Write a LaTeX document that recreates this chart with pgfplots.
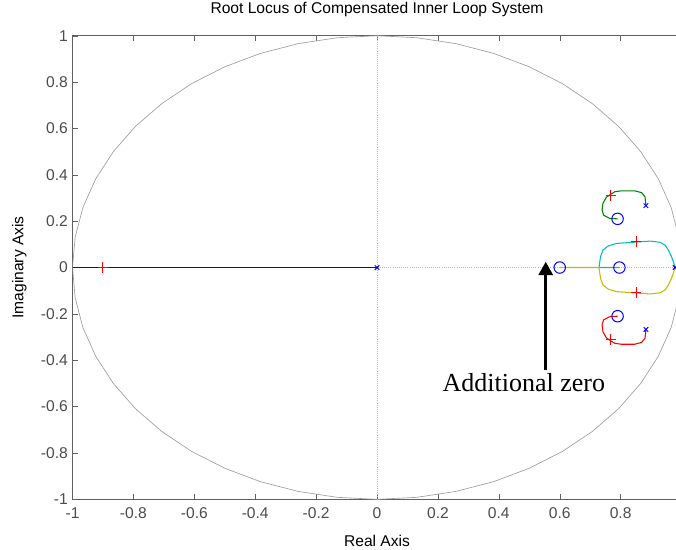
\documentclass[border=0pt]{standalone}
\usepackage{fontspec}
\setmainfont{Liberation Sans}
\newfontfamily\serifann{Liberation Serif}
\usepackage{pgfplots}
\pgfplotsset{compat=1.18}
\usetikzlibrary{arrows.meta}

\definecolor{mblue}{rgb}{0,0,1}
\definecolor{mgreen}{rgb}{0,0.5,0}
\definecolor{mred}{rgb}{1,0,0}
\definecolor{mcyan}{rgb}{0,0.75,0.75}
\definecolor{molive}{rgb}{0.75,0.75,0}
\definecolor{axgray}{rgb}{0.38,0.38,0.38}
\definecolor{labgray}{rgb}{0.3,0.3,0.3}

\begin{document}
\begin{tikzpicture}
\begin{axis}[
    at={(0,0)}, anchor=south west,
    scale only axis,
    width=456.75pt, height=347.7pt,
    xmin=-1, xmax=1, ymin=-1, ymax=1,
    xtick={-1,-0.8,...,1}, ytick={-1,-0.8,...,1},
    xticklabels={-1,-0.8,-0.6,-0.4,-0.2,0,0.2,0.4,0.6,0.8,},
    yticklabels={-1,-0.8,-0.6,-0.4,-0.2,0,0.2,0.4,0.6,0.8,1},
    tick align=inside,
    major tick length=4pt,
    axis line style={axgray},
    tick style={axgray},
    tick label style={font=\fontsize{11.7}{14}\selectfont, text=labgray},
    xticklabel style={yshift=-3pt},
    /pgf/number format/assume math mode=true,
    title={Root Locus of Compensated Inner Loop System},
    title style={font=\fontsize{11.7}{14}\selectfont, at={(axis description cs:0.5,1.0302)}, anchor=base},
    xlabel={Real Axis},
    xlabel style={font=\fontsize{11.7}{14}\selectfont, at={(axis description cs:0.5,-0.1007)}, anchor=base},
    ylabel={Imaginary Axis},
    ylabel style={font=\fontsize{11.7}{14}\selectfont, at={(axis description cs:-0.0874,0.5)}, anchor=center},
    clip=true,
]
% unit circle
\addplot[gray!75, line width=0.5pt] coordinates {
(1,0) (0.9914,0.1305) (0.9659,0.2588) (0.9239,0.3827) (0.8660,0.5) (0.7934,0.6088)
(0.7071,0.7071) (0.6088,0.7934) (0.5,0.8660) (0.3827,0.9239) (0.2588,0.9659) (0.1305,0.9914)
(0,1) (-0.1305,0.9914) (-0.2588,0.9659) (-0.3827,0.9239) (-0.5,0.8660) (-0.6088,0.7934)
(-0.7071,0.7071) (-0.7934,0.6088) (-0.8660,0.5) (-0.9239,0.3827) (-0.9659,0.2588) (-0.9914,0.1305)
(-1,0) (-0.9914,-0.1305) (-0.9659,-0.2588) (-0.9239,-0.3827) (-0.8660,-0.5) (-0.7934,-0.6088)
(-0.7071,-0.7071) (-0.6088,-0.7934) (-0.5,-0.8660) (-0.3827,-0.9239) (-0.2588,-0.9659) (-0.1305,-0.9914)
(0,-1) (0.1305,-0.9914) (0.2588,-0.9659) (0.3827,-0.9239) (0.5,-0.8660) (0.6088,-0.7934)
(0.7071,-0.7071) (0.7934,-0.6088) (0.8660,-0.5) (0.9239,-0.3827) (0.9659,-0.2588) (0.9914,-0.1305)
(1,0)
};
% dotted axes
\addplot[gray!55, densely dotted, line width=0.6pt] coordinates {(-1,0) (1,0)};
\addplot[gray!55, densely dotted, line width=0.6pt] coordinates {(0,-1) (0,1)};

% branches
\addplot[mblue, line width=1.4pt] coordinates {(-1,0) (0,0)};
\addplot[mgreen, line width=0.8pt] coordinates {
(0.883,0.270) (0.880,0.305) (0.869,0.323) (0.846,0.331) (0.803,0.331) (0.781,0.327)
(0.764,0.313) (0.753,0.303) (0.742,0.277) (0.739,0.248) (0.744,0.226) (0.764,0.212) (0.790,0.210)
};
\addplot[mred, line width=0.8pt] coordinates {
(0.883,-0.270) (0.880,-0.305) (0.869,-0.323) (0.846,-0.331) (0.803,-0.331) (0.781,-0.327)
(0.764,-0.313) (0.753,-0.303) (0.742,-0.277) (0.739,-0.248) (0.744,-0.226) (0.764,-0.212) (0.790,-0.210)
};
\addplot[mcyan, line width=0.8pt] coordinates {
(0.979,0.0) (0.973,0.025) (0.968,0.044) (0.957,0.075) (0.946,0.097) (0.929,0.109)
(0.897,0.114) (0.864,0.111) (0.820,0.107) (0.786,0.104) (0.759,0.093) (0.742,0.075)
(0.734,0.047) (0.729,0.0) (0.796,0.0)
};
\addplot[molive, line width=0.8pt] coordinates {
(0.979,0.0) (0.973,-0.025) (0.968,-0.044) (0.957,-0.075) (0.946,-0.097) (0.929,-0.109)
(0.897,-0.114) (0.864,-0.111) (0.820,-0.107) (0.786,-0.104) (0.759,-0.093) (0.742,-0.075)
(0.734,-0.047) (0.729,0.0) (0.6,0.0)
};

% zeros
\addplot[only marks, mark=o, mark size=4.3pt, mblue, mark options={line width=0.75pt}] coordinates {
(0.6,0) (0.796,0) (0.79,0.21) (0.79,-0.21)
};
% poles
\addplot[only marks, mark=x, mark size=2.4pt, mblue, mark options={line width=0.75pt}] coordinates {
(0,0) (0.883,0.267) (0.883,-0.267) (0.979,0)
};
% closed-loop poles
\addplot[only marks, mark=+, mark size=4pt, mred, mark options={line width=0.75pt}] coordinates {
(-0.9,0) (0.768,0.31) (0.768,-0.31) (0.851,0.111) (0.851,-0.107)
};

\draw[black, line width=2.2pt, -{Triangle[width=10.5pt,length=10pt]}] (axis cs:0.554,-0.442) -- (axis cs:0.554,0.025);
\node[anchor=base, font=\serifann\fontsize{19.5}{22}\selectfont, inner sep=0pt] at (axis cs:0.482,-0.536) {Additional zero};
\end{axis}
\pgfresetboundingbox
\path[use as bounding box] (-54.4pt,-37.3pt) rectangle (452.6pt,374.5pt);
\end{tikzpicture}
\end{document}
